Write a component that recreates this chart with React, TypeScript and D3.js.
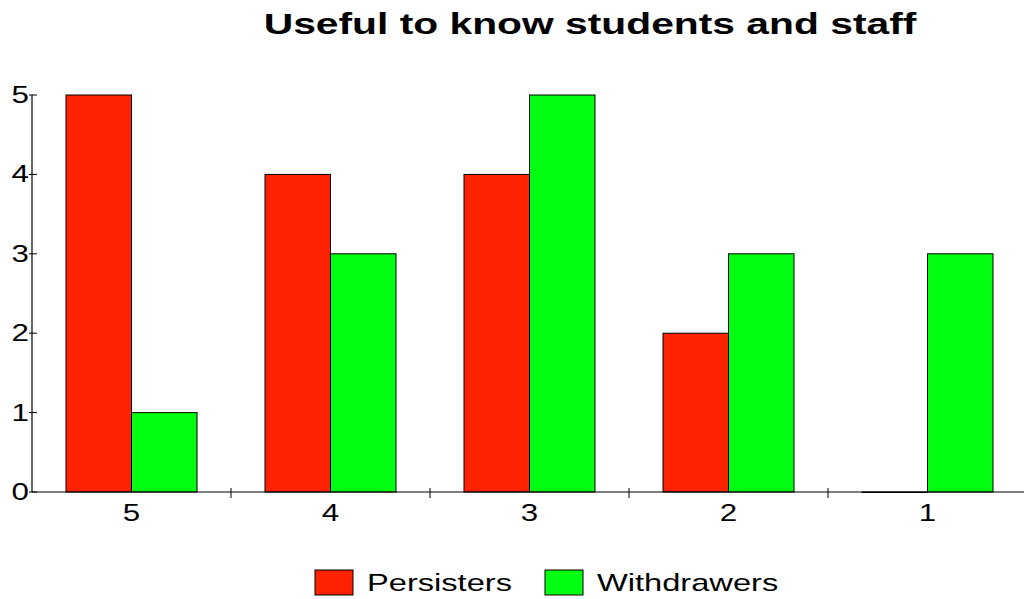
import React from "react";
import * as d3 from "d3";

const categories = ["5", "4", "3", "2", "1"];
const persisters = [5, 4, 4, 2, 0];
const withdrawers = [1, 3, 5, 3, 3];
const yTicks = [0, 1, 2, 3, 4, 5];
const seriesNames = ["Persisters", "Withdrawers"];
const colors = ["#ff2200", "#00ff11"];

const SX = 1.36;

function T(props: { x: number; y: number; anchor?: string; size: number; bold?: boolean; children: React.ReactNode }) {
  return (
    <g transform={`translate(${props.x},${props.y}) scale(${SX},1)`}>
      <text x={0} y={0} textAnchor={props.anchor || "start"} fontSize={props.size} fontWeight={props.bold ? "bold" : "normal"}>
        {props.children}
      </text>
    </g>
  );
}

export default function App() {
  const W = 1024, H = 599;
  const x0 = 32, x1 = 1027, yTop = 95, yBot = 492;
  const x = d3.scaleBand<string>().domain(categories).range([x0, x1]).paddingInner(0).paddingOuter(0);
  const y = d3.scaleLinear().domain([0, 5]).range([yBot, yTop]);
  const pad = 34;
  const inner = d3.scaleBand<string>().domain(seriesNames).range([pad, x.bandwidth() - pad]).padding(0);
  const series = [persisters, withdrawers];
  const font = "Arial, 'Liberation Sans', sans-serif";
  return (
    <svg width={W} height={H} style={{ position: "absolute", left: 0, top: 0, background: "#fff" }} fontFamily={font}>
      <T x={590} y={34} anchor="middle" size={30} bold>Useful to know students and staff</T>
      {categories.map((c, i) =>
        series.map((s, j) => {
          const bx = (x(c) as number) + (inner(seriesNames[j]) as number);
          const by = y(s[i]);
          return (
            <rect key={c + j} x={bx} y={by} width={inner.bandwidth()} height={Math.max(yBot - by, 0.5)}
              fill={colors[j]} stroke="#000" strokeWidth={1} />
          );
        })
      )}
      <line x1={x0} x2={W} y1={yBot} y2={yBot} stroke="#000" strokeWidth={1.2} />
      <line x1={x0} x2={x0} y1={yTop} y2={yBot} stroke="#000" strokeWidth={1.2} />
      {yTicks.map(t => (
        <g key={t}>
          <line x1={x0 - 3} x2={x0 + 5} y1={y(t)} y2={y(t)} stroke="#000" />
          <T x={x0 - 3} y={y(t) + 8} anchor="end" size={23}>{t}</T>
        </g>
      ))}
      {categories.slice(1).map(c => (
        <line key={c} x1={x(c) as number} x2={x(c) as number} y1={yBot - 4} y2={yBot + 6} stroke="#000" />
      ))}
      {categories.map(c => (
        <T key={c} x={(x(c) as number) + x.bandwidth() / 2} y={yBot + 29} anchor="middle" size={23}>{c}</T>
      ))}
      {seriesNames.map((n, j) => {
        const lx = [315, 545][j];
        return (
          <g key={n}>
            <rect x={lx} y={570} width={38} height={25} fill={colors[j]} stroke="#000" strokeWidth={1} />
            <T x={lx + 52} y={591} size={24}>{n}</T>
          </g>
        );
      })}
    </svg>
  );
}
